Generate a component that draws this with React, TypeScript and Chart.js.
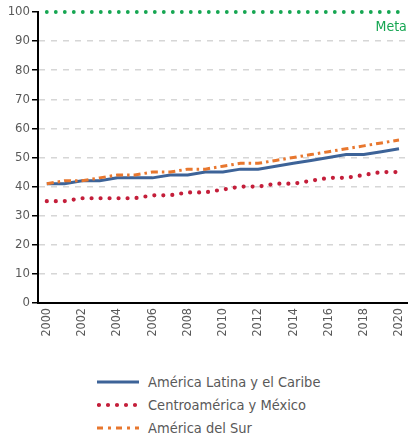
import { useEffect, useRef } from 'react';
import { Chart, registerables } from 'chart.js';

Chart.register(...registerables);

const years = ['2000', '2001', '2002', '2003', '2004', '2005', '2006', '2007', '2008', '2009', '2010', '2011', '2012', '2013', '2014', '2015', '2016', '2017', '2018', '2019', '2020'];
const americaLatina = [41, 41, 42, 42, 43, 43, 43, 44, 44, 45, 45, 46, 46, 47, 48, 49, 50, 51, 51, 52, 53];
const centroamerica = [35, 35, 36, 36, 36, 36, 37, 37, 38, 38, 39, 40, 40, 41, 41, 42, 43, 43, 44, 45, 45];
const americaSur = [41, 42, 42, 43, 44, 44, 45, 45, 46, 46, 47, 48, 48, 49, 50, 51, 52, 53, 54, 55, 56];
const metaLine = [100, 100, 100, 100, 100, 100, 100, 100, 100, 100, 100, 100, 100, 100, 100, 100, 100, 100, 100, 100, 100];
const yTicks = [0, 10, 20, 30, 40, 50, 60, 70, 80, 90, 100];
const seriesNames = ['América Latina y el Caribe', 'Centroamérica y México', 'América del Sur'];
const metaLabel = 'Meta';

const BLUE = '#3d6398';
const RED = '#c41e3a';
const ORANGE = '#e8772e';
const GREEN = '#16a652';
const TEXT = '#595959';
const FONT = "'DejaVu Sans Condensed', sans-serif";

const metaPlugin = {
  id: 'metaLabel',
  afterDatasetsDraw(chart: any) {
    const { ctx, chartArea, scales } = chart;
    const y = scales.y.getPixelForValue(100);
    ctx.save();
    ctx.fillStyle = GREEN;
    ctx.font = `14px ${FONT}`;
    ctx.textAlign = 'right';
    ctx.textBaseline = 'alphabetic';
    ctx.fillText(metaLabel, chartArea.right - 1, y + 19);
    ctx.restore();
  },
};

export default function App() {
  const ref = useRef<HTMLCanvasElement | null>(null);

  useEffect(() => {
    document.body.style.margin = '0';
    if (!ref.current) return;
    const chart = new Chart(ref.current, {
      type: 'line',
      data: {
        labels: years,
        datasets: [
          {
            label: seriesNames[2],
            data: americaSur,
            borderColor: ORANGE,
            borderWidth: 3,
            borderDash: [7, 4, 2.5, 4],
            pointRadius: 0,
            tension: 0,
          },
          {
            label: seriesNames[0],
            data: americaLatina,
            borderColor: BLUE,
            borderWidth: 3,
            pointRadius: 0,
            tension: 0,
          },
          {
            label: seriesNames[1],
            data: centroamerica,
            borderColor: RED,
            borderWidth: 4.2,
            borderDash: [0, 9],
            borderCapStyle: 'round',
            pointRadius: 0,
            tension: 0,
          },
          {
            label: metaLabel,
            data: metaLine,
            borderColor: GREEN,
            borderWidth: 3.8,
            borderDash: [0, 9],
            borderCapStyle: 'round',
            pointRadius: 0,
            tension: 0,
            clip: false,
          },
        ],
      },
      options: {
        animation: false,
        responsive: true,
        maintainAspectRatio: false,
        layout: { padding: { top: 12, right: 0, left: 0, bottom: 0 } },
        plugins: {
          legend: { display: false },
          tooltip: { enabled: false },
        },
        scales: {
          x: {
            type: 'category',
            offset: true,
            grid: { display: false, drawTicks: false },
            border: { display: true, color: '#000', width: 2 },
            ticks: {
              autoSkip: false,
              maxRotation: 90,
              minRotation: 90,
              padding: 5,
              color: TEXT,
              font: { family: FONT, size: 12.5 },
              callback: (_v: any, i: number) => (i % 2 === 0 ? years[i] : ''),
            },
            afterFit: (s: any) => {
              s.height = 47;
            },
          },
          y: {
            min: 0,
            max: 100,
            afterBuildTicks: (s: any) => {
              s.ticks = yTicks.map((v) => ({ value: v }));
            },
            grid: {
              color: (c: any) => (c.tick && (c.tick.value === 0 || c.tick.value === 100) ? 'rgba(0,0,0,0)' : '#d6d6d6'),
              lineWidth: 1.5,
              drawTicks: true,
              tickLength: 6,
              tickColor: '#000',
              tickWidth: 1.5,
              tickBorderDash: [],
            },
            border: { display: true, color: '#000', width: 2, dash: [6, 6] },
            ticks: {
              padding: 2,
              color: TEXT,
              font: { family: FONT, size: 13 },
            },
            afterFit: (s: any) => {
              s.width = 38;
            },
          },
        },
      },
      plugins: [metaPlugin],
    });
    return () => chart.destroy();
  }, []);

  const rowStyle: any = { display: 'flex', alignItems: 'center', height: 23 };
  const textStyle: any = { marginLeft: 9, fontFamily: FONT, fontSize: 14.5, color: TEXT, whiteSpace: 'nowrap' };

  return (
    <div style={{ position: 'absolute', left: 0, top: 0, width: 419, height: 439, background: '#fff' }}>
      <div style={{ position: 'relative', width: 419, height: 350 }}>
        <canvas ref={ref} />
      </div>
      <div style={{ position: 'absolute', left: 97, top: 370.5 }}>
        <div style={rowStyle}>
          <svg width="42" height="8">
            <line x1="0" y1="4" x2="42" y2="4" stroke={BLUE} strokeWidth="3" />
          </svg>
          <span style={textStyle}>{seriesNames[0]}</span>
        </div>
        <div style={rowStyle}>
          <svg width="42" height="8">
            <line x1="2" y1="4" x2="42" y2="4" stroke={RED} strokeWidth="4.2" strokeDasharray="0 9" strokeLinecap="round" />
          </svg>
          <span style={textStyle}>{seriesNames[1]}</span>
        </div>
        <div style={rowStyle}>
          <svg width="42" height="8">
            <line x1="0" y1="4" x2="42" y2="4" stroke={ORANGE} strokeWidth="3" strokeDasharray="6 5 3 5" />
          </svg>
          <span style={textStyle}>{seriesNames[2]}</span>
        </div>
      </div>
    </div>
  );
}
